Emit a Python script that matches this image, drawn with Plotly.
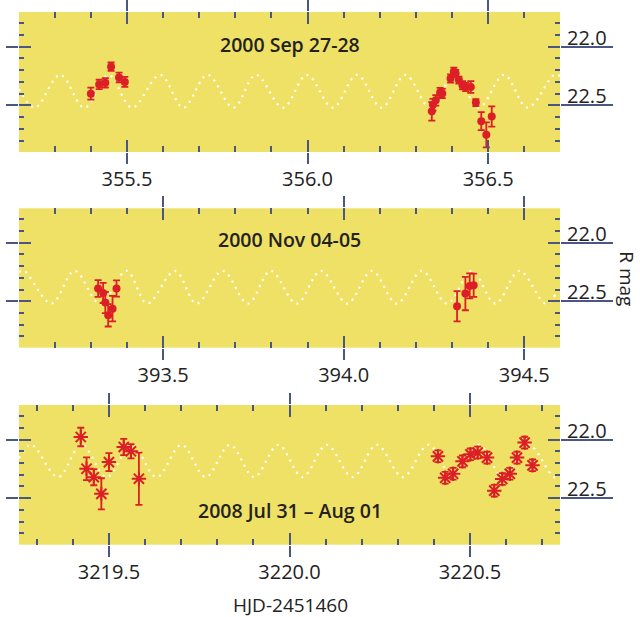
import plotly.graph_objects as go

# ---- observed light-curve points (HJD-2451460, R mag, 1-sigma error), one list per night ----
sep27_t = [355.400, 355.423, 355.440, 355.456, 355.478, 355.494]
sep27_mag = [22.400, 22.322, 22.308, 22.171, 22.262, 22.300]
sep27_err = [0.051, 0.040, 0.040, 0.036, 0.041, 0.043]

sep28_t = [356.344, 356.347, 356.355, 356.367, 356.373, 356.396, 356.405, 356.410,
           356.419, 356.429, 356.438, 356.452, 356.466, 356.481, 356.495, 356.510]
sep28_mag = [22.551, 22.494, 22.457, 22.391, 22.399, 22.271, 22.214, 22.228,
             22.285, 22.328, 22.343, 22.343, 22.476, 22.634, 22.751, 22.594]
sep28_err = [0.079, 0.050, 0.045, 0.040, 0.040, 0.035, 0.035, 0.030,
             0.030, 0.035, 0.035, 0.050, 0.030, 0.077, 0.107, 0.086]

nov04_t = [393.320, 393.334, 393.340, 393.348, 393.360, 393.371]
nov04_mag = [22.391, 22.429, 22.511, 22.620, 22.563, 22.391]
nov04_err = [0.071, 0.086, 0.090, 0.096, 0.109, 0.069]

nov05_t = [394.314, 394.337, 394.349, 394.360]
nov05_mag = [22.543, 22.434, 22.369, 22.363]
nov05_err = [0.129, 0.143, 0.107, 0.100]

jul31_t = [3219.422, 3219.438, 3219.458, 3219.479, 3219.500, 3219.541, 3219.561, 3219.583]
jul31_mag = [21.978, 22.249, 22.321, 22.463, 22.192, 22.063, 22.100, 22.334]
jul31_err = [0.079, 0.097, 0.069, 0.133, 0.077, 0.069, 0.060, 0.223]

aug01_t = [3220.411, 3220.431, 3220.453, 3220.479, 3220.501, 3220.521, 3220.547,
           3220.567, 3220.589, 3220.610, 3220.630, 3220.651, 3220.673]
aug01_mag = [22.143, 22.326, 22.292, 22.186, 22.126, 22.111, 22.154,
             22.436, 22.336, 22.292, 22.154, 22.026, 22.220]
aug01_err = [0.050, 0.050, 0.050, 0.050, 0.050, 0.050, 0.050,
             0.050, 0.050, 0.050, 0.050, 0.050, 0.050]

# ---- model light curve: turning points of the periodic model ----
sep_model_t = [355.201, 355.245, 355.315, 355.382, 355.449, 355.514, 355.592, 355.656,
               355.723, 355.795, 355.857, 355.932, 355.998, 356.070, 356.137, 356.205,
               356.271, 356.340, 356.407, 356.474, 356.544, 356.609, 356.683, 356.699]
sep_model_mag = [22.36, 22.52, 22.24, 22.52, 22.24, 22.52, 22.24, 22.52,
                 22.24, 22.52, 22.24, 22.52, 22.24, 22.52, 22.24, 22.52,
                 22.24, 22.52, 22.24, 22.52, 22.24, 22.52, 22.24, 22.25]

nov_model_t = [393.101, 393.115, 393.191, 393.255, 393.325, 393.399, 393.456, 393.533,
               393.593, 393.665, 393.735, 393.798, 393.870, 393.937, 394.010, 394.078,
               394.147, 394.217, 394.286, 394.355, 394.420, 394.487, 394.560, 394.599]
nov_model_mag = [22.25, 22.24, 22.52, 22.24, 22.52, 22.24, 22.52, 22.24,
                 22.52, 22.24, 22.52, 22.24, 22.52, 22.24, 22.52, 22.24,
                 22.52, 22.24, 22.52, 22.24, 22.52, 22.24, 22.52, 22.37]

jul_model_t = [3219.251, 3219.285, 3219.359, 3219.424, 3219.494, 3219.563, 3219.632,
               3219.701, 3219.768, 3219.835, 3219.902, 3219.969, 3220.036, 3220.103,
               3220.175, 3220.242, 3220.314, 3220.385, 3220.454, 3220.524, 3220.592,
               3220.662, 3220.732, 3220.749]
jul_model_mag = [22.16, 22.045, 22.32, 22.045, 22.32, 22.045, 22.32,
                 22.045, 22.32, 22.045, 22.32, 22.045, 22.32, 22.045,
                 22.32, 22.045, 22.32, 22.045, 22.32, 22.045, 22.32,
                 22.045, 22.32, 22.31]

panel_titles = ["2000 Sep 27-28", "2000 Nov 04-05", "2008 Jul 31 \u2013 Aug 01"]
x_ranges = [[355.201, 356.699], [393.101, 394.599], [3219.251, 3220.749]]
mag_range = [22.897, 21.705]
mag_ticks = [22.0, 22.5]
x_label = "HJD-2451460"
y_label = "R mag"

# ---- styling ----
BG = "#EFE066"
RED = "#DC1F26"
TICK = "#4B5783"
TEXT = "#222222"
FONT = "Open Sans"

domains_y = [[0.7536, 0.9806], [0.4365, 0.6624], [0.1172, 0.3436]]
domain_x = [19 / 640, 560 / 640]
title_pos = [0.771, 0.773, 0.248]

panels = [
    ((sep27_t, sep27_mag, sep27_err), (sep28_t, sep28_mag, sep28_err),
     sep_model_t, sep_model_mag, "circle"),
    ((nov04_t, nov04_mag, nov04_err), (nov05_t, nov05_mag, nov05_err),
     nov_model_t, nov_model_mag, "circle"),
    ((jul31_t, jul31_mag, jul31_err), (aug01_t, aug01_mag, aug01_err),
     jul_model_t, jul_model_mag, "asterisk-open"),
]


def ax_name(letter, n):
    return letter if n == 1 else f"{letter}{n}"


def key(letter, n):
    return f"{letter}axis" if n == 1 else f"{letter}axis{n}"


fig = go.Figure()

for i, (night1, night2, mt, mm, sym) in enumerate(panels):
    n = i + 1
    x_main, y_main = ax_name("x", n), ax_name("y", n)
    x_out = f"x{n + 3}"      # outer tick half + labels (bottom/top)
    y_left = f"y{n + 3}"     # outer tick half on the left
    y_right = f"y{n + 6}"    # long rules + labels on the right

    # dotted model curve
    fig.add_trace(go.Scatter(
        x=mt, y=mm, mode="lines", xaxis=x_main, yaxis=y_main,
        line=dict(color="white", width=2.2, dash="2px,5px", shape="spline", smoothing=1.0),
        hoverinfo="skip", showlegend=False))

    if sym == "circle":
        marker = dict(symbol="circle", size=8, color=RED)
    else:
        marker = dict(symbol="asterisk-open", size=12, color=RED,
                      line=dict(color=RED, width=2))

    # photometry of each night, with error bars
    for (t, m, e), ya in ((night1, y_left), (night2, y_right)):
        fig.add_trace(go.Scatter(
            x=t, y=m, mode="markers", xaxis=x_out, yaxis=ya,
            marker=marker,
            error_y=dict(type="data", array=e, visible=True, color=RED,
                         thickness=1.8, width=3.5),
            showlegend=False))

layout = dict(
    width=640, height=617,
    margin=dict(l=0, r=0, t=0, b=0),
    paper_bgcolor="white", plot_bgcolor=BG,
    font=dict(family=FONT, color=TEXT, size=20),
    showlegend=False,
)

minor_x = dict(dtick=0.1, ticks="inside", ticklen=6, tickwidth=2, tickcolor=TICK)
minor_y = dict(dtick=0.1, ticks="inside", ticklen=5, tickwidth=2, tickcolor=TICK)
common = dict(showgrid=False, zeroline=False, showline=False, fixedrange=True)
label_font = dict(family=FONT, size=20, color=TEXT, weight=500)

for i in range(3):
    n = i + 1
    x_main, y_main = ax_name("x", n), ax_name("y", n)

    # main x axis: inner half of the major ticks plus minor ticks, top and bottom
    layout[key("x", n)] = dict(
        common, domain=domain_x, anchor=y_main, range=x_ranges[i],
        tick0=0, dtick=0.5, ticks="inside", ticklen=12, tickwidth=2, tickcolor=TICK,
        mirror="ticks", minor=minor_x, showticklabels=False)
    # outer half of the major x ticks, with the labels underneath
    layout[f"xaxis{n + 3}"] = dict(
        common, overlaying=x_main, anchor=y_main, side="bottom", range=x_ranges[i],
        tick0=0, dtick=0.5, tickformat=".1f",
        ticks="outside", ticklen=11, tickwidth=2, tickcolor=TICK,
        mirror="ticks", ticklabelstandoff=-2, tickfont=label_font)

    # main y axis: inner half of the major ticks plus minor ticks, both sides
    layout[key("y", n)] = dict(
        common, domain=domains_y[i], anchor=x_main, range=mag_range,
        tickvals=mag_ticks, ticks="inside", ticklen=12, tickwidth=2, tickcolor=TICK,
        mirror="ticks", minor=minor_y, showticklabels=False)
    # outer half of the major ticks on the left
    layout[f"yaxis{n + 3}"] = dict(
        common, overlaying=y_main, anchor=x_main, side="left", range=mag_range,
        tickvals=mag_ticks, ticks="outside", ticklen=12, tickwidth=2, tickcolor=TICK,
        showticklabels=False)
    # right side: long rules under the magnitude labels
    layout[f"yaxis{n + 6}"] = dict(
        common, overlaying=y_main, anchor=x_main, side="right", range=mag_range,
        tickvals=mag_ticks, tickformat=".1f",
        ticks="outside", ticklen=52, tickwidth=2, tickcolor=TICK,
        ticklabelposition="outside top", ticklabelstandoff=2, ticklabelshift=-6,
        tickfont=label_font)

fig.update_layout(**layout)

annotations = []
for i in range(3):
    n = i + 1
    annotations.append(dict(
        text=panel_titles[i], xref=f"{ax_name('x', n)} domain", yref=f"{ax_name('y', n)} domain",
        x=0.5, y=title_pos[i], xanchor="center", yanchor="middle", showarrow=False,
        font=dict(family=FONT, size=19.5, color=TEXT, weight=600)))
annotations.append(dict(
    text=x_label, xref="paper", yref="paper", x=290 / 640, y=0.0, yshift=-3,
    xanchor="center", yanchor="bottom", showarrow=False,
    font=dict(family=FONT, size=19, color=TEXT, weight=500)))
annotations.append(dict(
    text=y_label, xref="paper", yref="paper", x=1.0, y=0.549, xshift=2,
    xanchor="right", yanchor="middle", showarrow=False, textangle=90,
    font=dict(family=FONT, size=19, color=TEXT, weight=500)))
fig.update_layout(annotations=annotations)

fig.write_html("out.html")
